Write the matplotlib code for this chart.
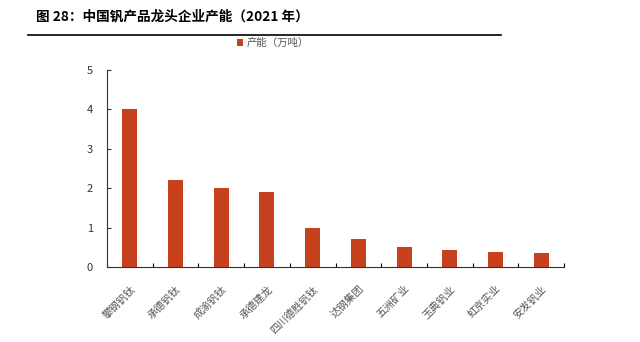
import matplotlib.pyplot as plt
import numpy as np

plt.rcParams['font.family'] = ['Noto Sans CJK SC', 'DejaVu Sans']

companies = ['攀钢钒钛', '承德钒钛', '成渝钒钛', '承德建龙', '四川德胜钒钛',
             '达钢集团', '五洲矿业', '玉典钒业', '虹京实业', '安发钒业']
capacity = [4.0, 2.2, 2.0, 1.9, 1.0, 0.7, 0.5, 0.42, 0.38, 0.35]

bar_color = '#C8411F'

fig = plt.figure(figsize=(6.4, 3.42), dpi=100)

# 标题与分隔线
fig.text(36 / 640, 1 - 16 / 342, '图 28：中国钒产品龙头企业产能（2021 年）',
         fontsize=9.8, fontweight='bold', ha='left', va='center')
fig.add_artist(plt.Line2D([28 / 640, 501 / 640], [1 - 35 / 342, 1 - 35 / 342],
                          color='black', linewidth=1.2))

ax = fig.add_axes([107 / 640, 1 - 267 / 342, 457 / 640, 197 / 342])
x = np.arange(len(companies))
ax.bar(x, capacity, width=0.33, color=bar_color, label='产能（万吨）')

ax.set_xlim(-0.5, len(companies) - 0.5)
ax.set_ylim(0, 5)
ax.set_yticks(range(6))
ax.tick_params(axis='y', direction='in', length=3, labelsize=8, colors='#333333', pad=10)

ax.set_xticks(np.arange(-0.5, len(companies), 1.0), minor=False)
ax.set_xticklabels([])
ax.set_xticks(x, minor=True)
ax.set_xticklabels(companies, minor=True, rotation=45, ha='right',
                   rotation_mode='anchor', fontsize=7.5, color='#555555')
ax.tick_params(axis='x', which='major', direction='in', length=3)
ax.tick_params(axis='x', which='minor', length=0, pad=12)

for s in ['top', 'right']:
    ax.spines[s].set_visible(False)
ax.spines['left'].set_color('#333333')
ax.spines['bottom'].set_color('#333333')

fig.legend(loc='center', bbox_to_anchor=(273 / 640, 1 - 43 / 342), frameon=False,
           fontsize=7.5, handlelength=0.6, handleheight=0.6, handletextpad=0.3,
           labelcolor='#555555')

fig.savefig('out.png', dpi=100)
